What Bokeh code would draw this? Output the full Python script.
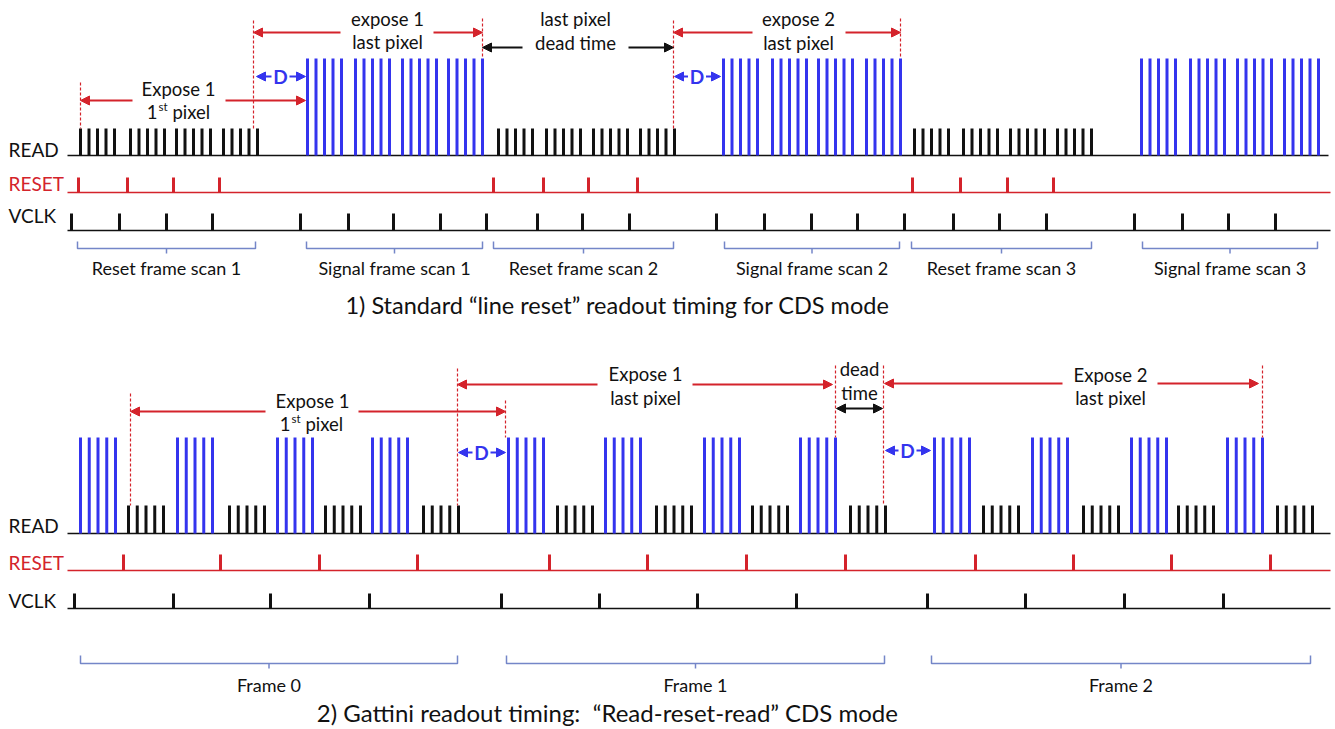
from bokeh.plotting import figure
from bokeh.models import Range1d, Arrow, NormalHead
from bokeh.core.properties import value
from bokeh.embed import file_html
from bokeh.resources import INLINE

# ---------------- data (time positions, in diagram units) ----------------
# Panel 1: standard "line reset"
P1_RESET_SCAN_GROUPS = [80, 130, 176, 223, 498, 546, 593, 640, 914, 963, 1010, 1057]   # black READ groups
P1_SIGNAL_SCAN_GROUPS = [307, 355, 402, 448, 723, 772, 818, 866, 1141, 1190, 1237, 1284]  # blue READ groups
P1_RESET_PULSES = [78, 127, 173, 219, 493, 543, 588, 637, 912, 960, 1007, 1053]
P1_VCLK = [71, 119, 166, 212, 300, 348, 393, 440, 486, 537, 582, 629,
           716, 764, 811, 857, 904, 953, 999, 1046, 1134, 1182, 1228, 1275]
P1_BRACKET_LABELS = ["Reset frame scan 1", "Signal frame scan 1", "Reset frame scan 2",
                     "Signal frame scan 2", "Reset frame scan 3", "Signal frame scan 3"]
P1_BRACKET_START = [77, 306, 493, 724, 911, 1142]
P1_BRACKET_END = [255, 482, 673, 899, 1091, 1317]
P1_TITLE = "1) Standard \u201cline reset\u201d readout timing for CDS mode"

# Panel 2: Gattini read-reset-read
P2_SIGNAL_GROUPS = [80, 177, 277, 372, 508, 605, 704, 800, 934, 1032, 1131, 1227]   # blue
P2_RESET_GROUPS = [128, 229, 325, 423, 557, 656, 752, 850, 983, 1083, 1178, 1277]   # black
P2_RESET_PULSES = [123, 220, 319, 417, 549, 647, 746, 845, 975, 1073, 1171, 1270]
P2_VCLK = [74, 173, 270, 369, 501, 599, 697, 796, 927, 1025, 1124, 1223]
P2_BRACKET_LABELS = ["Frame 0", "Frame 1", "Frame 2"]
P2_BRACKET_START = [80, 506, 931]
P2_BRACKET_END = [457, 884, 1310]
P2_TITLE = "2) Gattini readout timing:\u00a0 \u201cRead-reset-read\u201d CDS mode"

PULSES_PER_GROUP = 5
P1_PITCH = 8.5
P2_PITCH = 8.75

# ---------------- style ----------------
FONT = "Lato"
BLUE = "#3434ee"
RED = "#d4232b"
BLACK = "#111111"
BRACKET = "#7486c8"
ANN = 18.5

W, H = 1335, 729
p = figure(width=W, height=H, x_range=Range1d(0, W), y_range=Range1d(H, 0),
           output_backend="svg", toolbar_location=None,
           x_axis_location=None, y_axis_location=None, min_border=0)
p.grid.visible = False
p.outline_line_color = None
p.background_fill_color = "white"


def pulses(starts, pitch, base, height, color, lw=3):
    xs = [s + k * pitch for s in starts for k in range(PULSES_PER_GROUP)]
    p.segment(x0=xs, y0=[base] * len(xs), x1=xs, y1=[base - height] * len(xs),
              line_color=color, line_width=lw, line_cap="butt")


def ticks(xs, base, height, color, lw=3):
    p.segment(x0=xs, y0=[base] * len(xs), x1=xs, y1=[base - height] * len(xs),
              line_color=color, line_width=lw, line_cap="butt")


def hline(x0, x1, y, color, lw=1.5):
    p.segment(x0=[x0], y0=[y], x1=[x1], y1=[y], line_color=color, line_width=lw)


def dashed(x, y0, y1):
    p.segment(x0=[x], y0=[y0], x1=[x], y1=[y1], line_color=RED, line_width=1.2, line_dash="3 2")


def arrow(x0, x1, y, color, both=False, lw=2.2):
    head = dict(size=9, fill_color=color, line_color=color, line_width=1)
    a = Arrow(end=NormalHead(**head), x_start=x0, y_start=y, x_end=x1, y_end=y,
              line_color=color, line_width=lw)
    if both:
        a.start = NormalHead(**head)
    p.add_layout(a)


def txt(x, y, s, size, color=BLACK, align="center", style="normal"):
    p.text(x=[x], y=[y], text=[s], text_font=value(FONT), text_font_size=value(f"{size}px"),
           text_align=align, text_baseline="middle", text_color=color, text_font_style=style)


def first_pixel(xr, y, size):
    # "1st pixel" with superscript
    txt(xr, y, "1", size, align="right")
    txt(xr + 1, y - 5, "st", size * 0.62, align="left")
    txt(xr + 15, y, "pixel", size, align="left")


def brackets(starts, ends, labels, ytip, yline, ytext):
    for a, b, lab in zip(starts, ends, labels):
        c = (a + b) / 2
        p.line(x=[a, a, b, b], y=[ytip, yline, yline, ytip], line_color=BRACKET, line_width=1.5)
        p.segment(x0=[c], y0=[yline], x1=[c], y1=[yline + 5], line_color=BRACKET, line_width=1.5)
        txt(c, ytext, lab, 18)


# ================= Panel 1 =================
R1, S1, V1 = 155, 192, 230
hline(67, 1328, R1, BLACK)
hline(67, 1330, S1, RED, 1.3)
hline(67, 1330, V1, BLACK)
pulses(P1_RESET_SCAN_GROUPS, P1_PITCH, R1, 27, BLACK)
pulses(P1_SIGNAL_SCAN_GROUPS, P1_PITCH, R1, 97, BLUE)
ticks(P1_RESET_PULSES, S1, 15, RED)
ticks(P1_VCLK, V1, 17, BLACK)
txt(8, 149, "READ", 19, align="left")
txt(8, 183, "RESET", 19, color=RED, align="left")
txt(8, 215, "VCLK", 19, align="left")

for x, y0, y1 in [(80, 82, 128), (253, 20, 128), (482, 18, 58), (673, 20, 128), (900, 18, 58)]:
    dashed(x, y0, y1)

arrow(132, 80, 100, RED); arrow(225, 305, 100, RED)
txt(178, 88, "Expose 1", ANN); first_pixel(157, 111, ANN)
arrow(340, 253, 32, RED); arrow(433, 482, 32, RED)
txt(387, 18, "expose 1", ANN); txt(387, 41, "last pixel", ANN)
arrow(522, 482, 47, BLACK); arrow(628, 673, 47, BLACK)
txt(575, 18, "last pixel", ANN); txt(575, 42, "dead time", ANN)
arrow(752, 673, 32, RED); arrow(845, 900, 32, RED)
txt(798, 18, "expose 2", ANN); txt(798, 42, "last pixel", ANN)
for a, b in [(255, 305), (673, 720)]:
    c = (a + b) / 2
    arrow(c - 9, a + 1, 76, BLUE, lw=2); arrow(c + 9, b, 76, BLUE, lw=2)
    txt(c, 76, "D", 19, color=BLUE, style="bold")

brackets(P1_BRACKET_START, P1_BRACKET_END, P1_BRACKET_LABELS, 241, 248, 267)
txt(617, 304, P1_TITLE, 23.5)

# ================= Panel 2 =================
R2, S2, V2 = 533, 570, 608
hline(67, 1330, R2, BLACK)
hline(67, 1330, S2, RED, 1.3)
hline(67, 1330, V2, BLACK)
pulses(P2_SIGNAL_GROUPS, P2_PITCH, R2, 96, BLUE)
pulses(P2_RESET_GROUPS, P2_PITCH, R2, 28, BLACK)
ticks(P2_RESET_PULSES, S2, 16, RED)
ticks(P2_VCLK, V2, 15, BLACK)
txt(8, 525, "READ", 19, align="left")
txt(8, 562, "RESET", 19, color=RED, align="left")
txt(8, 600, "VCLK", 19, align="left")

for x, y0, y1 in [(130, 393, 505), (505, 400, 437), (457, 368, 505),
                  (835, 365, 437), (883, 365, 505), (1262, 365, 437)]:
    dashed(x, y0, y1)

arrow(265, 130, 411, RED); arrow(358, 505, 411, RED)
txt(312, 400, "Expose 1", ANN); first_pixel(290, 423, ANN)
arrow(597, 457, 384, RED); arrow(692, 832, 384, RED)
txt(645, 373, "Expose 1", ANN); txt(645, 397, "last pixel", ANN)
arrow(836, 882, 408, BLACK, both=True, lw=2)
txt(859, 368, "dead", ANN); txt(859, 392, "time", ANN)
arrow(1062, 884, 383, RED); arrow(1157, 1258, 383, RED)
txt(1110, 374, "Expose 2", ANN); txt(1110, 397, "last pixel", ANN)
for a, b, y in [(457, 505, 452), (884, 930, 450)]:
    c = (a + b) / 2
    arrow(c - 9, a + 1, y, BLUE, lw=2); arrow(c + 9, b, y, BLUE, lw=2)
    txt(c, y, "D", 19, color=BLUE, style="bold")

brackets(P2_BRACKET_START, P2_BRACKET_END, P2_BRACKET_LABELS, 655, 663, 684)
txt(607, 712, P2_TITLE, 24)

open("out.html", "w").write(file_html(p, INLINE))
